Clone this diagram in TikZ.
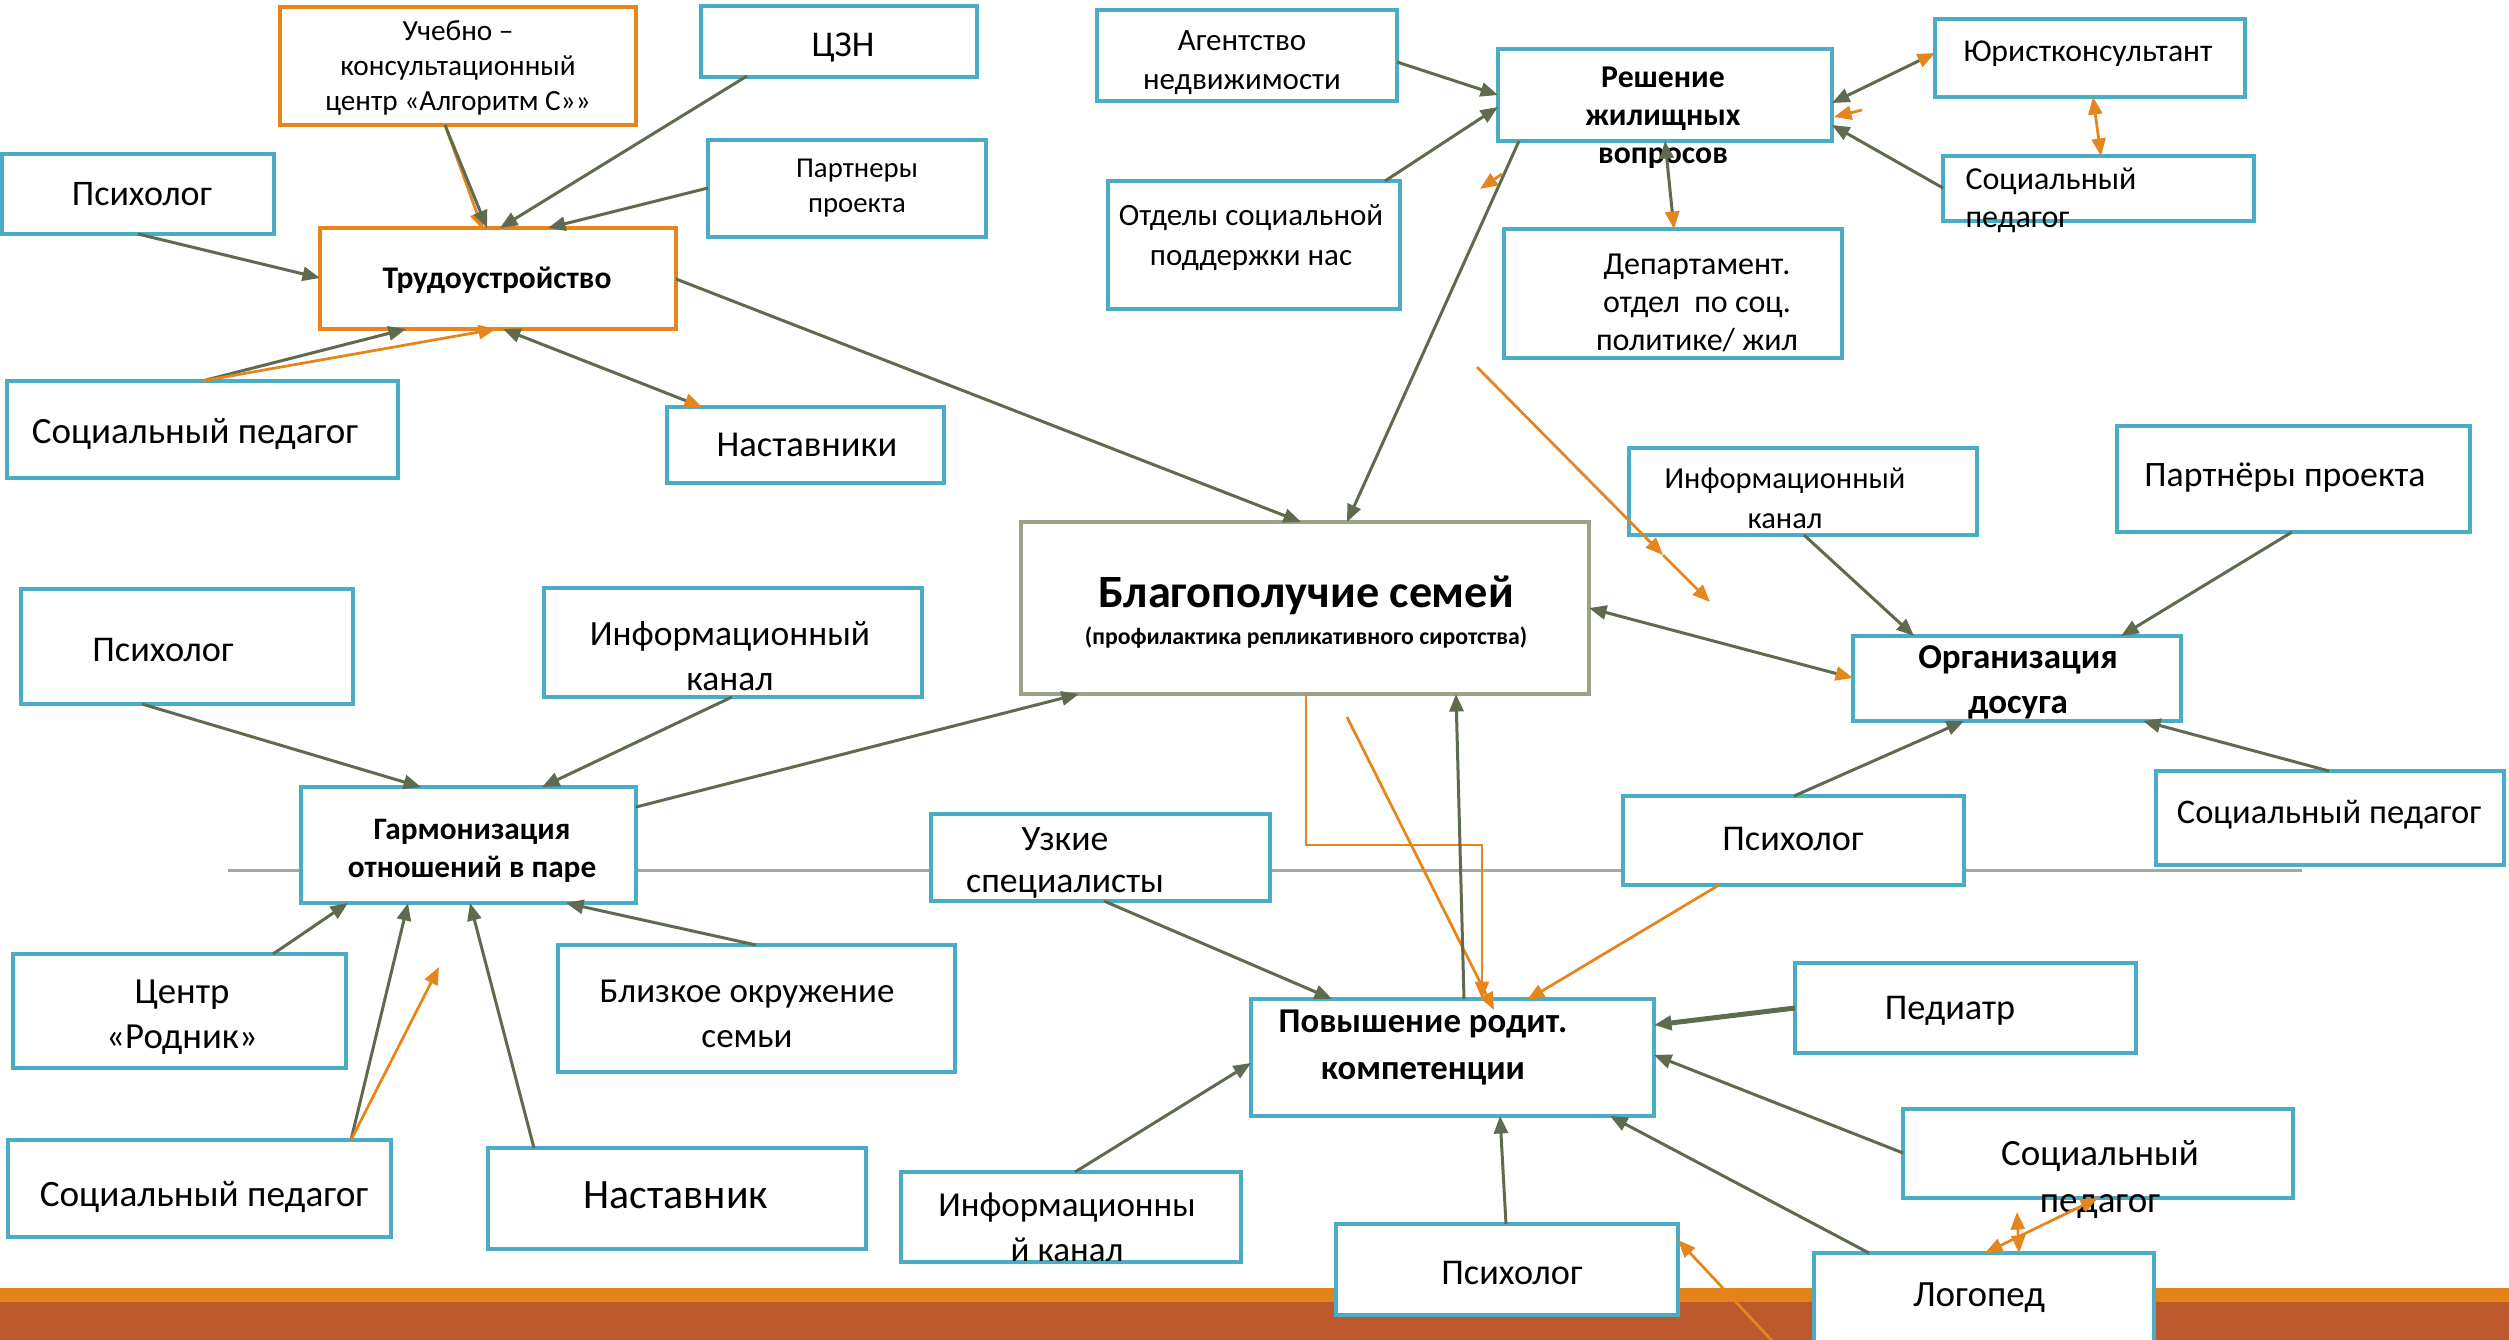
\documentclass[tikz,border=0pt]{standalone}
\usepackage{fontspec}
\setmainfont{Carlito}
\usetikzlibrary{arrows.meta,calc}
\definecolor{gr}{HTML}{5E6B4E}
\definecolor{orC}{HTML}{E5851C}
\definecolor{cy}{HTML}{4BACC6}
\definecolor{bgc}{HTML}{9AA38A}
\definecolor{bandA}{HTML}{E3831A}
\definecolor{bandB}{HTML}{BE592D}
\definecolor{hlc}{HTML}{A6A6A6}
\newcommand\fsz[2]{\fontsize{#1}{#2}\selectfont}
\newcommand\mkbox[6]{%
  \pgfmathsetmacro\bxw{(#5-#3)*0.4}%
  \pgfmathsetmacro\bxh{(#6-#4)*0.4}%
  \node[#2, minimum width=\bxw pt, minimum height=\bxh pt] (#1) at ({(#3+#5)/2},{(#4+#6)/2}) {};%
}
\tikzset{
  cbox/.style={draw=cy, fill=white, line width=1.3pt, inner sep=0pt, outer sep=0pt},
  obox/.style={cbox, draw=orC},
  gbox/.style={cbox, draw=bgc},
  tx/.style={align=center, inner sep=0pt},
  gt/.tip={Triangle[length=7pt,width=5.6pt]},
  ot/.tip={Triangle[length=7pt,width=5.6pt,color=orC]},
  ga/.style={draw=gr, line width=1.2pt, -gt},
  oa/.style={draw=orC, line width=1.1pt, -ot},
}
\begin{document}
\begin{tikzpicture}[x=0.4pt,y=-0.4pt]
\clip (0,0) rectangle (2509,1340);
\path[use as bounding box] (0,0) rectangle (2509,1340);
% bottom band
\fill[bandA] (0,1288) rectangle (2509,1302);
\fill[bandB] (0,1302) rectangle (2509,1340);
% horizontal grey line
\coordinate (hlL) at (228,870);
\coordinate (hlR) at (2302,870);
\draw[hlc, line width=1.2pt] (hlL) -- (hlR);
% boxes
\mkbox{uch}{obox}{280}{7}{636}{125}
\mkbox{trud}{obox}{320}{228}{676}{329}
\mkbox{czn}{cbox}{701}{6}{977}{77}
\mkbox{par1}{cbox}{708}{140}{986}{237}
\mkbox{psy1}{cbox}{2}{154}{274}{234}
\mkbox{sp1}{cbox}{7}{381}{398}{478}
\mkbox{nas1}{cbox}{667}{407}{944}{483}
\mkbox{agn}{cbox}{1097}{10}{1397}{101}
\mkbox{resh}{cbox}{1498}{49}{1832}{141}
\mkbox{otd}{cbox}{1108}{181}{1400}{309}
\mkbox{dep}{cbox}{1504}{229}{1842}{358}
\mkbox{yur}{cbox}{1935}{19}{2245}{97}
\mkbox{sp2}{cbox}{1943}{156}{2254}{221}
\mkbox{blag}{gbox}{1021}{522}{1589}{694}
\mkbox{inf2}{cbox}{1629}{448}{1977}{535}
\mkbox{par2}{cbox}{2117}{426}{2470}{532}
\mkbox{org}{cbox}{1853}{636}{2181}{721}
\mkbox{sp3}{cbox}{2156}{771}{2504}{865}
\mkbox{psy3}{cbox}{1623}{796}{1964}{885}
\mkbox{psy2}{cbox}{21}{589}{353}{704}
\mkbox{inf1}{cbox}{544}{588}{922}{697}
\mkbox{garm}{cbox}{301}{787}{636}{903}
\mkbox{uzk}{cbox}{931}{814}{1270}{901}
\mkbox{rod}{cbox}{13}{954}{346}{1068}
\mkbox{blz}{cbox}{558}{945}{955}{1072}
\mkbox{sp4}{cbox}{8}{1140}{391}{1237}
\mkbox{nast}{cbox}{488}{1148}{866}{1249}
\mkbox{pov}{cbox}{1251}{999}{1654}{1116}
\mkbox{ped}{cbox}{1795}{963}{2136}{1053}
\mkbox{sp5}{cbox}{1903}{1109}{2293}{1198}
\mkbox{inf3}{cbox}{901}{1172}{1241}{1262}
\mkbox{psy4}{cbox}{1336}{1224}{1678}{1315}
\mkbox{log}{cbox}{1814}{1253}{2154}{1360}
% texts
\node[tx, font=\fsz{11.7}{14}] (uchT) at (458,68) {Учебно –\\консультационный\\центр «Алгоритм С»»};
\node[tx, font=\fsz{12.6}{15}\bfseries] (trudT) at (497,280) {Трудоустройство};
\node[tx, font=\fsz{14.5}{17}] (cznT) at (843,48) {ЦЗН};
\node[tx, font=\fsz{11.5}{14}] (par1T) at (857,188) {Партнеры\\проекта};
\node[tx, font=\fsz{14.4}{17}] (psy1T) at (142,194) {Психолог};
\node[tx, font=\fsz{14.8}{17}] (sp1T) at (195,434) {Социальный педагог};
\node[tx, font=\fsz{14.6}{17}] (nas1T) at (807,445) {Наставники};
\node[tx, font=\fsz{12.4}{15.6}] (agnT) at (1242,63) {Агентство\\недвижимости};
\node[tx, font=\fsz{12.7}{15.2}\bfseries] (reshT) at (1663,118) {Решение\\жилищных\\вопросов};
\node[tx, font=\fsz{12.4}{16}] (otdT) at (1251,238) {Отделы социальной\\поддержки нас};
\node[tx, font=\fsz{12.8}{15.2}] (depT) at (1697,303) {Департамент.\\ отдел~ по соц.\\политике/ жил};
\node[tx, font=\fsz{12.7}{15}] (yurT) at (2088,54) {Юристконсультант};
\node[tx, anchor=west, align=left, font=\fsz{12.8}{15.2}] (sp2T) at (1965,200) {Социальный\\педагог};
\node[tx, font=\fsz{18.5}{22}\bfseries] (blagT) at (1306,595) {Благополучие семей};
\node[tx, font=\fsz{9.5}{11}\bfseries] (blagS) at (1306,638) {(профилактика репликативного сиротства)};
\node[tx, font=\fsz{12.2}{16}] (inf2T) at (1785,498) {Информационный\\канал};
\node[tx, font=\fsz{14.3}{17}] (par2T) at (2285,478) {Партнёры проекта};
\node[tx, font=\fsz{14}{18}\bfseries] (orgT) at (2018,682) {Организация\\досуга};
\node[tx, font=\fsz{13.8}{17}] (sp3T) at (2329,815) {Социальный педагог};
\node[tx, font=\fsz{14.5}{17}] (psy3T) at (1793,839) {Психолог};
\node[tx, font=\fsz{14.5}{17}] (psy2T) at (163,650) {Психолог};
\node[tx, font=\fsz{14.2}{18}] (inf1T) at (730,656) {Информационный\\канал};
\node[tx, font=\fsz{12.5}{15.2}\bfseries] (garmT) at (472,851) {Гармонизация\\отношений в паре};
\node[tx, font=\fsz{14.3}{16.8}] (uzkT) at (1065,863) {Узкие\\специалисты};
\node[tx, font=\fsz{14.7}{18}] (rodT) at (182,1017) {Центр\\«Родник»};
\node[tx, font=\fsz{14}{18}] (blzT) at (747,1014) {Близкое окружение\\семьи};
\node[tx, font=\fsz{14.9}{17}] (sp4T) at (204,1197) {Социальный педагог};
\node[tx, font=\fsz{16.7}{19}] (nastT) at (676,1195) {Наставник};
\node[tx, font=\fsz{13.9}{18.8}\bfseries] (povT) at (1423,1048) {Повышение родит.\\компетенции};
\node[tx, font=\fsz{14.5}{17}] (pedT) at (1950,1011) {Педиатр};
\node[tx, font=\fsz{14.8}{18.8}] (sp5T) at (2100,1180) {Социальный\\педагог};
\node[tx, font=\fsz{14}{18}] (inf3T) at (1067,1227) {Информационны\\й канал};
\node[tx, font=\fsz{14.5}{17}] (psy4T) at (1512,1273) {Психолог};
\node[tx, font=\fsz{14.8}{17}] (logT) at (1979,1298) {Логопед};
% free coordinates
\coordinate (oR1) at (1862,110);
\coordinate (oS1) at (1502,174);
\coordinate (oS2) at (1480,189);
\coordinate (oL1) at (1477,367);
\coordinate (oL2) at (1663,555);
\coordinate (oL3) at (1710,602);
\coordinate (oG) at (439,967);
\coordinate (oB) at (1347,717);
\coordinate (oP) at (1776,1345);
% connectors: Трудоустройство
\draw[oa] ([shift={(165,118)}]uch.north west) -- ([shift={(163,2)}]trud.north west);
\draw[ga] ([shift={(165,118)}]uch.north west) -- ([shift={(167,0)}]trud.north west);
\draw[ga] ([shift={(46,70)}]czn.north west) -- ([shift={(180,0)}]trud.north west);
\draw[ga] ([shift={(0,48)}]par1.north west) -- ([shift={(228,0)}]trud.north west);
\draw[ga] ([shift={(136,80)}]psy1.north west) -- ([shift={(0,50)}]trud.north west);
\draw[ga] ([shift={(195,0)}]sp1.north west) -- ([shift={(86,101)}]trud.north west);
\draw[oa] ([shift={(195,0)}]sp1.north west) -- ([shift={(176,101)}]trud.north west);
\draw[ga, gt-ot] ([shift={(183,101)}]trud.north west) -- ([shift={(35,0)}]nas1.north west);
\draw[ga] ([shift={(356,51)}]trud.north west) -- ([shift={(280,0)}]blag.north west);
% Решение жилищных вопросов
\draw[ga] ([shift={(300,52)}]agn.north west) -- ([shift={(0,46)}]resh.north west);
\draw[ga] ([shift={(277,0)}]otd.north west) -- ([shift={(0,58)}]resh.north west);
\draw[ga] ([shift={(21,92)}]resh.north west) -- ([shift={(326,0)}]blag.north west);
\draw[ga, gt-ot] ([shift={(167,92)}]resh.north west) -- ([shift={(170,0)}]dep.north west);
\draw[ga, gt-ot] ([shift={(334,54)}]resh.north west) -- ([shift={(0,34)}]yur.north west);
\draw[ga] ([shift={(0,32)}]sp2.north west) -- ([shift={(334,76)}]resh.north west);
\draw[oa] (oR1) -- ([shift={(336,68)}]resh.north west);
\draw[oa, ot-ot] ([shift={(158,78)}]yur.north west) -- ([shift={(158,0)}]sp2.north west);
\draw[oa] (oS1) -- (oS2);
\draw[oa] (oL1) -- (oL2);
\draw[oa] (oL2) -- (oL3);
% Организация досуга
\draw[ga] ([shift={(175,87)}]inf2.north west) -- ([shift={(61,0)}]org.north west);
\draw[ga] ([shift={(175,106)}]par2.north west) -- ([shift={(268,0)}]org.north west);
\draw[ga] ([shift={(171,0)}]psy3.north west) -- ([shift={(111,85)}]org.north west);
\draw[ga] ([shift={(173,0)}]sp3.north west) -- ([shift={(290,85)}]org.north west);
\draw[ga, gt-ot] ([shift={(568,86)}]blag.north west) -- ([shift={(0,42)}]org.north west);
% Гармонизация
\draw[ga] ([shift={(121,115)}]psy2.north west) -- ([shift={(120,0)}]garm.north west);
\draw[ga] ([shift={(188,109)}]inf1.north west) -- ([shift={(241,0)}]garm.north west);
\draw[ga] ([shift={(335,20)}]garm.north west) -- ([shift={(58,172)}]blag.north west);
\draw[ga] ([shift={(260,0)}]rod.north west) -- ([shift={(47,116)}]garm.north west);
\draw[ga] ([shift={(343,0)}]sp4.north west) -- ([shift={(107,116)}]garm.north west);
\draw[ga] ([shift={(46,0)}]nast.north west) -- ([shift={(169,116)}]garm.north west);
\draw[ga] ([shift={(198,0)}]blz.north west) -- ([shift={(265,116)}]garm.north west);
\draw[oa] ([shift={(343,0)}]sp4.north west) -- (oG);
% Повышение родит. компетенции
\draw[oa] ([shift={(285,172)}]blag.north west) -- ++(0,151) -| ([shift={(231,0)}]pov.north west);
\draw[oa] (oB) -- ([shift={(243,11)}]pov.north west);
\draw[ga] ([shift={(213,0)}]pov.north west) -- ([shift={(435,172)}]blag.north west);
\draw[oa] ([shift={(96,89)}]psy3.north west) -- ([shift={(276,1)}]pov.north west);
\draw[ga] ([shift={(173,87)}]uzk.north west) -- ([shift={(81,0)}]pov.north west);
\draw[ga] ([shift={(174,0)}]inf3.north west) -- ([shift={(0,64)}]pov.north west);
\draw[ga, line width=2pt] ([shift={(0,45)}]ped.north west) -- ([shift={(403,26)}]pov.north west);
\draw[ga] ([shift={(0,44)}]sp5.north west) -- ([shift={(403,56)}]pov.north west);
\draw[ga] ([shift={(55,0)}]log.north west) -- ([shift={(359,117)}]pov.north west);
\draw[ga] ([shift={(170,0)}]psy4.north west) -- ([shift={(249,117)}]pov.north west);
\draw[oa] (oP) -- ([shift={(342,16)}]psy4.north west);
\draw[oa, ot-ot] ([shift={(171,0)}]log.north west) -- ([shift={(195,89)}]sp5.north west);
\draw[oa, ot-ot] ([shift={(114,103)}]sp5.north west) -- ([shift={(205,0)}]log.north west);
\end{tikzpicture}
\end{document}
